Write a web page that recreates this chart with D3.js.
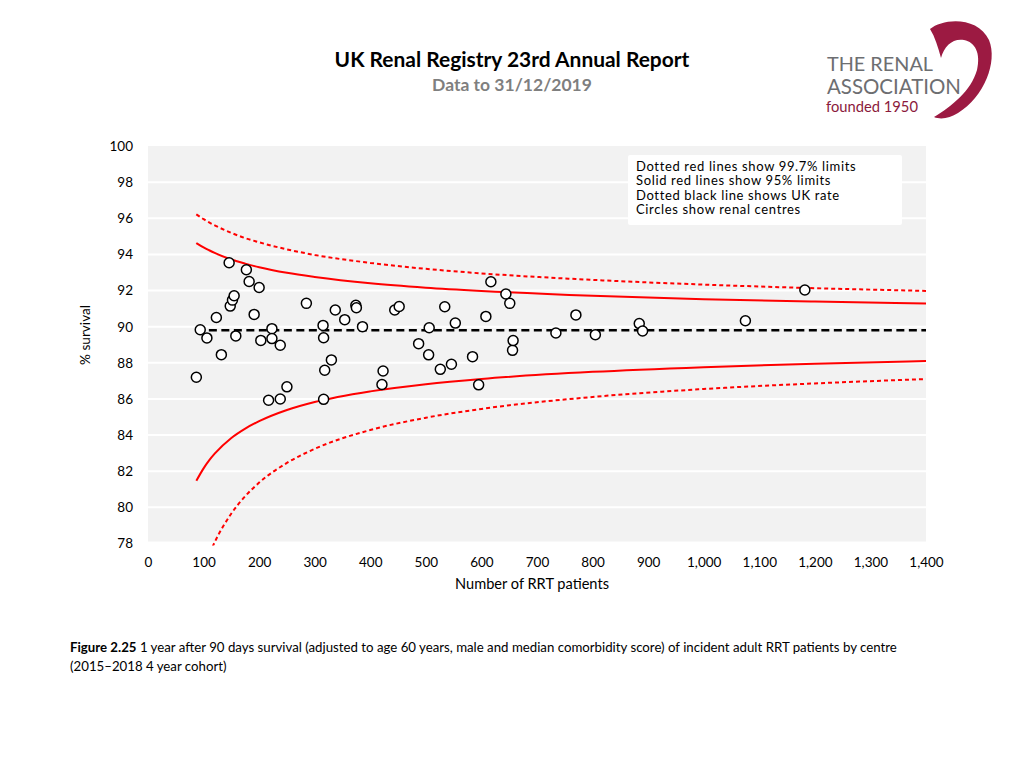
<!DOCTYPE html>
<html>
<head>
<meta charset="utf-8">
<script src="https://cdn.jsdelivr.net/npm/d3@7"></script>
<style>
  html, body { margin: 0; padding: 0; background: #ffffff; }
  svg text { font-family: Lato, "Open Sans", "Liberation Sans", sans-serif; }
</style>
</head>
<body>
<svg id="chart" width="1024" height="768"></svg>
<script>
// ---------------- DATA ----------------
const titleText = "UK Renal Registry 23rd Annual Report";
const subtitleText = "Data to 31/12/2019";
const xTicks = [0, 100, 200, 300, 400, 500, 600, 700, 800, 900, 1000, 1100, 1200, 1300, 1400];
const yTicks = [78, 80, 82, 84, 86, 88, 90, 92, 94, 96, 98, 100];
const ukRate = 89.8;
const ukRateRange = [87, 1400];

// renal centres: number of RRT patients, % survival
const centreN = [87, 94, 106, 123, 132, 146, 148, 152, 155, 158, 177, 182, 191, 200, 203,
  217, 223, 223, 238, 238, 250, 285, 315, 316, 318, 316, 330, 337, 354, 374, 375, 386,
  421, 423, 444, 452, 487, 505, 506, 526, 534, 546, 553, 584, 595, 608, 617, 644, 651,
  656, 657, 734, 770, 805, 884, 890, 1075, 1182];
const centreSurv = [87.2, 89.83, 89.38, 90.51, 88.45, 93.54, 91.14, 91.47, 91.71, 89.49, 93.15, 92.5, 90.68, 92.17, 89.24,
  85.93, 89.89, 89.34, 88.97, 86.0, 86.67, 91.29, 90.07, 89.39, 87.59, 85.98, 88.16, 90.92, 90.39, 91.18, 91.05, 90.0,
  86.8, 87.55, 90.92, 91.12, 89.06, 88.44, 89.94, 87.64, 91.1, 87.92, 90.2, 88.34, 86.78, 90.57, 92.49, 91.81, 91.29,
  88.69, 89.23, 89.65, 90.65, 89.56, 90.17, 89.76, 90.33, 92.03];

// funnel limits
const limitN =    [87,    100,   110,   120,   150,   175,   200,   250,   300,   400,   500,   600,   800,   1000,  1200,  1400];
const upper95 =   [94.63, 94.39, 94.23, 94.08, 93.72, 93.49, 93.29, 92.98, 92.75, 92.40, 92.16, 91.98, 91.71, 91.52, 91.39, 91.28];
const lower95 =   [81.47, 82.16, 82.60, 82.97, 83.84, 84.36, 84.77, 85.39, 85.83, 86.42, 86.82, 87.11, 87.50, 87.76, 87.95, 88.10];
const upper997 =  [96.22, 95.95, 95.77, 95.61, 95.19, 94.90, 94.67, 94.28, 93.97, 93.53, 93.20, 92.95, 92.59, 92.33, 92.13, 91.98];
const lower997 =  [75.25, 76.56, 77.38, 78.07, 79.66, 80.62, 81.37, 82.46, 83.24, 84.28, 84.96, 85.45, 86.11, 86.55, 86.86, 87.10];

const legendLines = [
  "Dotted red lines show 99.7% limits",
  "Solid red lines show 95% limits",
  "Dotted black line shows UK rate",
  "Circles show renal centres"
];
const xAxisTitle = "Number of RRT patients";
const yAxisTitle = "% survival";
const captionBold = "Figure 2.25";
const captionLine1 = " 1 year after 90 days survival (adjusted to age 60 years, male and median comorbidity score) of incident adult RRT patients by centre";
const captionLine2 = "(2015\u20132018 4 year cohort)";

// ---------------- DRAW ----------------
const svg = d3.select("#chart");
const plot = { left: 148, right: 926, top: 146, bottom: 543.5 };

const x = d3.scaleLinear().domain([0, 1400]).range([plot.left, plot.right]);
const y = d3.scaleLinear().domain([78, 100]).range([plot.bottom, plot.top]);

function fit(sel, w) {
  const len = sel.node().getComputedTextLength();
  const fs = parseFloat(sel.attr("font-size"));
  sel.attr("font-size", (fs * w / len).toFixed(2));
  return sel;
}

// Title
fit(svg.append("text").attr("x", 512).attr("y", 67).attr("text-anchor", "middle")
  .attr("font-size", 20).attr("font-weight", "bold").attr("fill", "#000").text(titleText), 355);
fit(svg.append("text").attr("x", 512).attr("y", 91).attr("text-anchor", "middle")
  .attr("font-size", 15).attr("font-weight", "bold").attr("fill", "#7f7f7f").text(subtitleText), 160);

// Logo
const logo = svg.append("g");
logo.append("path")
  .attr("d", "M930,29 C943,18 978,16 989,40 C998,62 984,97 958,113 C950,118 941,120 934,117 " +
             "C952,106 971,91 977,70 C981,53 975,42 964,40 C953,38 944,46 941,58 " +
             "C938,47 935,37 930,29 Z")
  .attr("fill", "#9c1a42");
fit(logo.append("text").attr("x", 827).attr("y", 71).attr("font-size", 18).attr("fill", "#6d6e71").text("THE RENAL"), 106);
fit(logo.append("text").attr("x", 827).attr("y", 94).attr("font-size", 18).attr("fill", "#6d6e71").text("ASSOCIATION"), 134);
fit(logo.append("text").attr("x", 826).attr("y", 112).attr("font-size", 14).attr("fill", "#8b1a3c")
  .text("founded 1950"), 92);

// Plot background
svg.append("rect").attr("x", plot.left).attr("y", plot.top)
  .attr("width", plot.right - plot.left).attr("height", plot.bottom - plot.top - 2)
  .attr("fill", "#f2f2f2");

// gridlines
svg.append("g").selectAll("line").data(yTicks.filter(d => d > 78 && d < 100)).join("line")
  .attr("x1", plot.left).attr("x2", plot.right)
  .attr("y1", d => y(d)).attr("y2", d => y(d))
  .attr("stroke", "#ffffff").attr("stroke-width", 2);

// Y axis labels
const yAxis = d3.axisLeft(y).tickValues(yTicks).tickSize(0).tickPadding(0);
const gy = svg.append("g").attr("transform", "translate(133,0)").call(yAxis);
gy.select(".domain").remove();
gy.selectAll("text").attr("font-size", 13.5).attr("fill", "#000")
  .style("font-family", "Lato, 'Open Sans', sans-serif");

// X axis labels
const xAxis = d3.axisBottom(x).tickValues(xTicks).tickSize(0).tickPadding(0)
  .tickFormat(d3.format(","));
const gx = svg.append("g").attr("transform", "translate(0,557)").call(xAxis);
gx.select(".domain").remove();
gx.selectAll("text").attr("font-size", 13.5).attr("fill", "#000")
  .style("font-family", "Lato, 'Open Sans', sans-serif");

// Axis titles
fit(svg.append("text").attr("x", 532).attr("y", 589).attr("text-anchor", "middle")
  .attr("font-size", 13).attr("fill", "#000").text(xAxisTitle), 154);
fit(svg.append("text").attr("transform", "translate(90,335) rotate(-90)").attr("text-anchor", "middle")
  .attr("font-size", 13).attr("fill", "#000").text(yAxisTitle), 60);

// Clip
svg.append("clipPath").attr("id", "clip").append("rect")
  .attr("x", plot.left).attr("y", plot.top).attr("width", plot.right - plot.left)
  .attr("height", plot.bottom - plot.top + 2);

const lineGen = arr => d3.line().x((d, i) => x(limitN[i])).y(d => y(d)).curve(d3.curveMonotoneX)(arr);
const lines = svg.append("g").attr("clip-path", "url(#clip)");
[upper997, lower997].forEach(a => lines.append("path").attr("d", lineGen(a))
  .attr("fill", "none").attr("stroke", "#ff0000").attr("stroke-width", 2).attr("stroke-dasharray", "4,3"));
[upper95, lower95].forEach(a => lines.append("path").attr("d", lineGen(a))
  .attr("fill", "none").attr("stroke", "#ff0000").attr("stroke-width", 2));

// UK rate
lines.append("line").attr("x1", x(ukRateRange[0])).attr("x2", x(ukRateRange[1]))
  .attr("y1", y(ukRate)).attr("y2", y(ukRate))
  .attr("stroke", "#000").attr("stroke-width", 2.5).attr("stroke-dasharray", "8,4.5");

// Centres
svg.append("g").selectAll("circle").data(centreN).join("circle")
  .attr("cx", d => x(d)).attr("cy", (d, i) => y(centreSurv[i])).attr("r", 5)
  .attr("fill", "#fff").attr("stroke", "#000").attr("stroke-width", 1.5);

// Legend
svg.append("rect").attr("x", 628).attr("y", 155).attr("width", 274).attr("height", 70)
  .attr("fill", "#fff").attr("rx", 2);
legendLines.forEach((t, i) => svg.append("text").attr("x", 636).attr("y", 170.5 + i * 14.5)
  .attr("font-size", 13).attr("letter-spacing", 0.65).attr("fill", "#000").text(t));

// Caption
const cap1 = svg.append("text").attr("x", 70).attr("y", 652).attr("font-size", 12).attr("fill", "#000");
cap1.append("tspan").attr("font-weight", "bold").text(captionBold);
cap1.append("tspan").text(captionLine1);
fit(cap1, 827);
svg.append("text").attr("x", 70).attr("y", 671).attr("font-size", cap1.attr("font-size"))
  .attr("fill", "#000").text(captionLine2);
</script>
</body>
</html>
